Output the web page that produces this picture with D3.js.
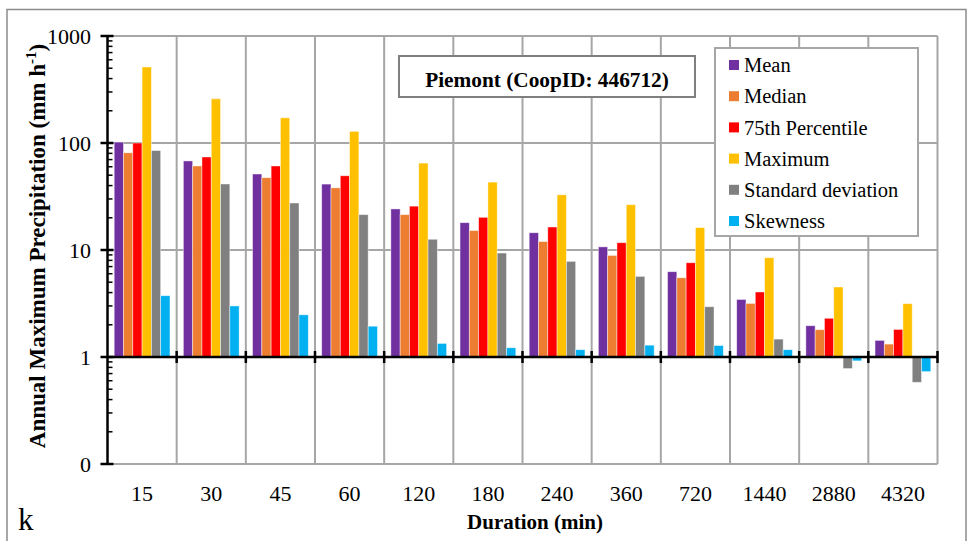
<!DOCTYPE html>
<meta charset="utf-8">
<style>
body {
  margin: 0;
  background: #fff;
}
svg text {
  font-family: 'Liberation Serif', 'Times New Roman', serif;
}
.grid line {
  stroke: #a6a6a6;
  stroke-width: 2;
}
.tick-label {
  font-size: 22px;
  fill: #000;
}
.legend text {
  font-size: 20.5px;
}
</style>
<body>
<svg id="chart" width="967" height="541"></svg>
<script src="https://d3js.org/d3.v7.min.js"></script>
<script>

// durations (min)
var durations = ["15", "30", "45", "60", "120", "180", "240", "360", "720", "1440", "2880", "4320"];
var seriesNames = ["Mean", "Median", "75th Percentile", "Maximum", "Standard deviation", "Skewness"];
var seriesColors = ["#7030a0", "#ed7d31", "#ff0000", "#ffc000", "#808080", "#00b0f0"];

var mean   = [102, 68, 51.3, 41.3, 24.2, 18.0, 14.5, 10.7, 6.27, 3.45, 1.96, 1.43];
var median = [81, 61, 47.4, 38.1, 21.4, 15.2, 12.0, 8.9, 5.5, 3.17, 1.80, 1.32];
var p75    = [100, 74, 61, 49.4, 25.7, 20.2, 16.4, 11.7, 7.6, 4.05, 2.30, 1.81];
var maximum = [513, 259, 172, 128.5, 64.9, 43.1, 32.8, 26.5, 16.2, 8.47, 4.51, 3.15];
var stdev  = [85, 41.4, 27.5, 21.4, 12.6, 9.37, 7.83, 5.67, 2.95, 1.47, 0.78, 0.58];
var skew   = [3.74, 3.0, 2.48, 1.94, 1.34, 1.22, 1.17, 1.29, 1.28, 1.17, 0.92, 0.73];

var yTickValues = [0.1, 1, 10, 100, 1000];
var yTickLabels = ["0", "1", "10", "100", "1000"];

var allSeries = [mean, median, p75, maximum, stdev, skew];

var svg = d3.select("#chart");

// outer frame of the chart
svg.append("rect")
  .attr("x", 7).attr("y", 9.5)
  .attr("width", 959).attr("height", 545)
  .attr("fill", "none")
  .attr("stroke", "#8c8c8c")
  .attr("stroke-width", 1.5);

var plotLeft = 107.5, plotRight = 937.5, plotTop = 36, plotBottom = 464;

var x = d3.scaleBand()
  .domain(durations)
  .range([plotLeft, plotRight])
  .padding(0);

var xs = d3.scaleBand()
  .domain(seriesNames)
  .range([0, x.bandwidth()])
  .paddingInner(0)
  .paddingOuter(0.72);

var y = d3.scaleLog()
  .domain([0.1, 1000])
  .range([plotBottom, plotTop]);

var boundaries = durations.slice(1).map(function(d) { return x(d); }).concat([plotRight]);

// gridlines
var grid = svg.append("g").attr("class", "grid");
grid.selectAll(".hg")
  .data(yTickValues)
  .enter().append("line")
  .attr("x1", plotLeft).attr("x2", plotRight)
  .attr("y1", function(d) { return y(d); })
  .attr("y2", function(d) { return y(d); });
grid.selectAll(".vg")
  .data(boundaries)
  .enter().append("line")
  .attr("x1", function(d) { return d; })
  .attr("x2", function(d) { return d; })
  .attr("y1", plotTop).attr("y2", plotBottom);

// bars, based at 1
var groups = svg.append("g").selectAll("g")
  .data(seriesNames)
  .enter().append("g")
  .attr("fill", function(d, i) { return seriesColors[i]; });

groups.selectAll("rect")
  .data(function(d, i) {
    return allSeries[i].map(function(v, j) { return {name: d, dur: durations[j], v: v}; });
  })
  .enter().append("rect")
  .attr("x", function(d) { return x(d.dur) + xs(d.name); })
  .attr("width", xs.bandwidth())
  .attr("y", function(d) { return Math.min(y(d.v), y(1)); })
  .attr("height", function(d) { return Math.abs(y(d.v) - y(1)); })
  .attr("stroke", "rgba(255,255,255,0.55)")
  .attr("stroke-width", 0.8);

// y axis with log minor ticks
var yAxis = svg.append("g");
yAxis.append("line")
  .attr("x1", plotLeft).attr("x2", plotLeft)
  .attr("y1", plotTop).attr("y2", plotBottom)
  .attr("stroke", "#000").attr("stroke-width", 2.5);

var minor = y.ticks().filter(function(d) {
  return yTickValues.every(function(t) { return Math.abs(t - d) > 1e-9; });
});
yAxis.selectAll(".minor")
  .data(minor)
  .enter().append("line")
  .attr("x1", plotLeft).attr("x2", plotLeft + 5)
  .attr("y1", function(d) { return y(d); })
  .attr("y2", function(d) { return y(d); })
  .attr("stroke", "#000").attr("stroke-width", 1.5);

yAxis.selectAll(".major")
  .data(yTickValues)
  .enter().append("line")
  .attr("x1", plotLeft - 7).attr("x2", plotLeft + 6)
  .attr("y1", function(d) { return y(d); })
  .attr("y2", function(d) { return y(d); })
  .attr("stroke", "#000").attr("stroke-width", 2.5);

yAxis.selectAll("text")
  .data(yTickValues)
  .enter().append("text")
  .attr("class", "tick-label")
  .attr("x", 91)
  .attr("y", function(d) { return y(d); })
  .attr("dy", "0.35em")
  .attr("text-anchor", "end")
  .text(function(d, i) { return yTickLabels[i]; });

// x axis crossing at 1
var xAxis = svg.append("g");
xAxis.append("line")
  .attr("x1", plotLeft).attr("x2", plotRight)
  .attr("y1", y(1)).attr("y2", y(1))
  .attr("stroke", "#000").attr("stroke-width", 2.5);
xAxis.selectAll(".xt")
  .data(boundaries)
  .enter().append("line")
  .attr("x1", function(d) { return d; })
  .attr("x2", function(d) { return d; })
  .attr("y1", y(1) - 6).attr("y2", y(1) + 6)
  .attr("stroke", "#000").attr("stroke-width", 2.5);

xAxis.selectAll("text")
  .data(durations)
  .enter().append("text")
  .attr("class", "tick-label")
  .attr("x", function(d) { return x(d) + x.bandwidth() / 2; })
  .attr("y", 501)
  .attr("text-anchor", "middle")
  .text(function(d) { return d; });

// axis titles
var yTitle = svg.append("text")
  .attr("transform", "translate(45,246) rotate(-90)")
  .attr("text-anchor", "middle")
  .attr("font-weight", "bold")
  .attr("font-size", 23);
yTitle.append("tspan").text("Annual Maximum Precipitation (mm h");
yTitle.append("tspan").attr("font-size", 15).attr("dy", -9).text("-1");
yTitle.append("tspan").attr("dy", 9).text(")");

svg.append("text")
  .attr("x", 535).attr("y", 529)
  .attr("text-anchor", "middle")
  .attr("font-weight", "bold")
  .attr("font-size", 21)
  .text("Duration (min)");

svg.append("text")
  .attr("x", 18).attr("y", 530)
  .attr("font-size", 31)
  .text("k");

// station box
svg.append("rect")
  .attr("x", 399).attr("y", 56)
  .attr("width", 296).attr("height", 41)
  .attr("fill", "#fff")
  .attr("stroke", "#7f7f7f")
  .attr("stroke-width", 2);
svg.append("text")
  .attr("x", 547).attr("y", 87)
  .attr("text-anchor", "middle")
  .attr("font-weight", "bold")
  .attr("font-size", 21.3)
  .text("Piemont (CoopID: 446712)");

// legend
var legend = svg.append("g").attr("class", "legend");
legend.append("rect")
  .attr("x", 715).attr("y", 48)
  .attr("width", 203).attr("height", 188)
  .attr("fill", "#fff")
  .attr("stroke", "#a6a6a6")
  .attr("stroke-width", 2);

var items = legend.selectAll(".item")
  .data(seriesNames)
  .enter().append("g")
  .attr("transform", function(d, i) { return "translate(729," + (65 + i * 31.2) + ")"; });
items.append("rect")
  .attr("x", 0).attr("y", -5)
  .attr("width", 10).attr("height", 10)
  .attr("fill", function(d, i) { return seriesColors[i]; });
items.append("text")
  .attr("x", 15)
  .attr("dy", "0.35em")
  .text(function(d) { return d; });

</script>
</body>
